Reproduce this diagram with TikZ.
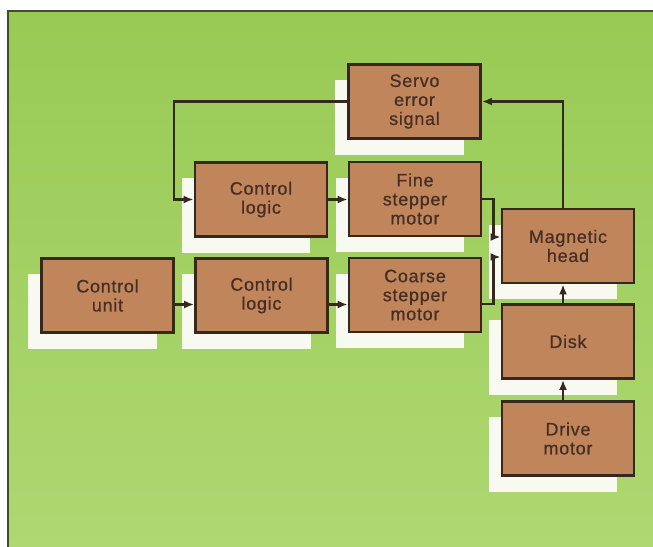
\documentclass[tikz,border=0pt]{standalone}
\usepackage{fontspec}
\setmainfont{Liberation Sans}
\newfontfamily\boxfont{Liberation Sans}[LetterSpace=4, BoldFont={Liberation Sans}, BoldFeatures={FakeBold=0.7, LetterSpace=4}]
\usetikzlibrary{arrows.meta}
\pgfdeclarelayer{bgl}
\pgfdeclarelayer{shl}
\pgfsetlayers{bgl,shl,main}
\definecolor{grntop}{RGB}{152,202,84}
\definecolor{grnbot}{RGB}{174,216,114}
\definecolor{brn}{RGB}{192,133,90}
\definecolor{edge}{RGB}{52,40,32}
\definecolor{txt}{RGB}{70,46,36}
\definecolor{shadowc}{RGB}{248,249,240}
\definecolor{framec}{RGB}{70,70,60}
\begin{document}
\begin{tikzpicture}[x=1pt,y=-1pt,
  blk/.style={draw=edge, line width=2.8pt, fill=brn, text=txt, align=center,
    font=\boxfont\bfseries\fontsize{18}{19}\selectfont, inner sep=0pt,
    minimum width=132pt, minimum height=74pt},
  conn/.style={draw=edge, line width=2.3pt, -{Latex[length=10pt,width=8pt]}},
  shadowbox/.style={fill=shadowc},
  framel/.style={draw=framec, line width=1.8pt}]
\useasboundingbox (0,0) rectangle (653,546);
\begin{pgfonlayer}{bgl}
  \fill[white] (0,0) rectangle (653,546);
  \shade[top color=grntop, bottom color=grnbot] (8,11) rectangle (660,552);
  \draw[framel] (8,552) -- (8,11) -- (660,11);
\end{pgfonlayer}

\node[blk] (servo)  at (414.5,101.5) {Servo\\error\\signal};
\node[blk] (logicA) at (261,199.5) {Control\\logic};
\node[blk] (fine)   at (415,199) {Fine\\stepper\\motor};
\node[blk] (unit)   at (107.5,295.5) {Control\\unit};
\node[blk] (logicB) at (261.5,295.5) {Control\\logic};
\node[blk] (coarse) at (415,295) {Coarse\\stepper\\motor};
\node[blk] (head)   at (568,246) {Magnetic\\head};
\node[blk] (disk)   at (568,341.5) {Disk};
\node[blk] (drive)  at (568,438.5) {Drive\\motor};

\begin{pgfonlayer}{shl}
  \foreach \n in {servo,logicA,fine,unit,logicB,coarse,head,disk,drive}
    \fill[shadowbox] ([shift={(-12pt,-17pt)}]\n.north west) rectangle ([shift={(-18pt,-15pt)}]\n.south east);
\end{pgfonlayer}

\coordinate (fb) at (174,101.5);
\draw[conn] ([xshift=-5pt]head.north) |- (servo.east);
\draw[conn] (servo.west) -- (fb) |- (logicA.west);
\draw[conn] (logicA.east) -- (logicA.east -| fine.west);
\draw[conn] ([yshift=-9pt]unit.east) -- ([yshift=-9pt]unit.east -| logicB.west);
\draw[conn] ([yshift=-9pt]logicB.east) -- ([yshift=-9pt]logicB.east -| coarse.west);
\draw[conn] (fine.east) -- ++(11,0) |- ([yshift=9pt]head.west);
\draw[conn] ([yshift=-9pt]coarse.east) -- ++(11,0) |- ([yshift=-11pt]head.west);
\draw[conn] ([xshift=-5pt]disk.north) -- ([xshift=-5pt]head.south);
\draw[conn] ([xshift=-5pt]drive.north) -- ([xshift=-5pt]disk.south);
\end{tikzpicture}
\end{document}
